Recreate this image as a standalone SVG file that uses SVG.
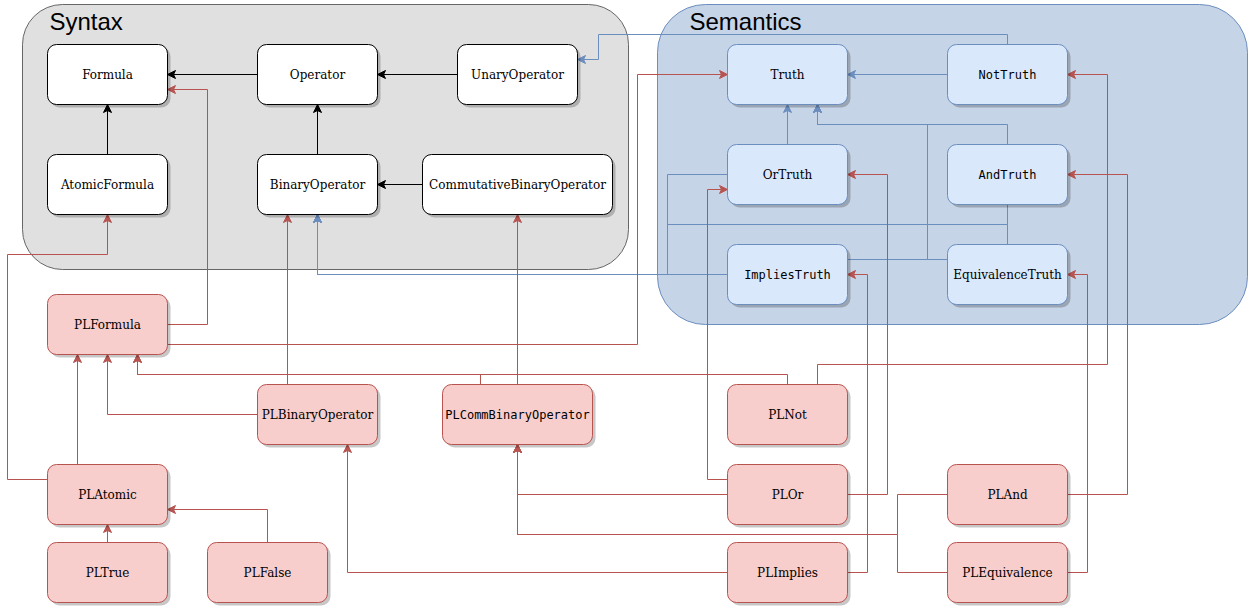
<svg xmlns="http://www.w3.org/2000/svg" width="1248" height="606" viewBox="0 0 1248 606">
<defs>
<style>
.shadow{fill:#000;opacity:0.22}
.syn{fill:#fff;stroke:#000;stroke-width:1}
.sem{fill:#dae8fc;stroke:#6c8ebf;stroke-width:1}
.pl{fill:#f8cecc;stroke:#b85450;stroke-width:1}
.t{font-family:"DejaVu Serif",serif;font-size:12px;fill:#000;text-anchor:middle}
.m{font-family:"DejaVu Sans Mono",monospace;font-size:12px;fill:#000;text-anchor:middle}
.title{font-family:"Liberation Sans",Arial,sans-serif;font-size:24px;fill:#000}
.k{fill:none;stroke:#000;stroke-width:1}
.b{fill:none;stroke:#6c8ebf;stroke-width:1}
.r{fill:none;stroke:#b85450;stroke-width:1}
</style>
<marker id="ak" viewBox="-9 -5 10 10" markerWidth="10" markerHeight="10" refX="0" refY="0" orient="auto" markerUnits="userSpaceOnUse"><path d="M0,0 L-8,-4 L-6,0 L-8,4 Z" fill="#000" stroke="#000" stroke-width="1"/></marker>
<marker id="abl" viewBox="-9 -5 10 10" markerWidth="10" markerHeight="10" refX="0" refY="0" orient="auto" markerUnits="userSpaceOnUse"><path d="M0,0 L-8,-4 L-6,0 L-8,4 Z" fill="#6c8ebf" stroke="#6c8ebf" stroke-width="1"/></marker>
<marker id="ar" viewBox="-9 -5 10 10" markerWidth="10" markerHeight="10" refX="0" refY="0" orient="auto" markerUnits="userSpaceOnUse"><path d="M0,0 L-8,-4 L-6,0 L-8,4 Z" fill="#b85450" stroke="#b85450" stroke-width="1"/></marker>
</defs>
<rect width="1248" height="606" fill="#fff"/>
<g transform="translate(0.5,0.5)">
<g id="syntax-container">
<rect x="22" y="4" width="606" height="265" rx="40" ry="40" fill="#e0e0e0" stroke="#666666"/>
<text class="title" x="49" y="29">Syntax</text>
</g>
<g id="semantics-container">
<rect x="657" y="4" width="590" height="320" rx="48" ry="48" fill="#c6d4e7" stroke="#6c8ebf"/>
<text class="title" x="689" y="29">Semantics</text>
</g>

<g id="connectors">
<g class="k" marker-end="url(#ak)">
<path d="M257,74 H167"/>
<path d="M457,74 H377"/>
<path d="M107,154 V104"/>
<path d="M317,154 V104"/>
<path d="M422,184 H377"/>
</g>
<g class="b" marker-end="url(#abl)">
<path d="M1007,44 V34 H598 V59 H577"/>
<path d="M947,74 H847"/>
<path d="M787,144 V104"/>
<path d="M1007,144 V124 H817 V104"/>
<path d="M847,259 H927 V124 H817 V104"/>
<path d="M947,259 H927 V124 H817 V104"/>
<path d="M727,174 H667 V274 H317 V214"/>
<path d="M727,274 H317 V214"/>
<path d="M1007,204 V224 H667 V274 H317 V214"/>
<path d="M1007,244 V224 H667 V274 H317 V214"/>
</g>
<g class="r" marker-end="url(#ar)">
<path d="M167,324 H207 V89 H167"/>
<path d="M167,344 H637 V74 H727"/>
<path d="M47,479 H7 V254 H107 V214"/>
<path d="M77,464 V354"/>
<path d="M257,414 H107 V354"/>
<path d="M287,384 V214"/>
<path d="M480,384 V374 H137 V354"/>
<path d="M787,384 V374 H137 V354"/>
<path d="M517,384 V214"/>
<path d="M817,384 V364 H1107 V74 H1067"/>
<path d="M727,479 H707 V189 H727"/>
<path d="M727,494 H517 V444"/>
<path d="M847,494 H887 V174 H847"/>
<path d="M727,572 H347 V444"/>
<path d="M847,572 H867 V274 H847"/>
<path d="M947,494 H897 V534 H517 V444"/>
<path d="M947,572 H897 V534 H517 V444"/>
<path d="M1067,494 H1127 V174 H1067"/>
<path d="M1067,572 H1087 V274 H1067"/>
<path d="M107,542 V524"/>
<path d="M267,542 V509 H167"/>
</g>
</g>

<g id="Formula"><rect class="shadow" x="50" y="47" width="120" height="60" rx="9"/><rect class="syn" x="47" y="44" width="120" height="60" rx="9"/><text class="t" x="107" y="78">Formula</text></g>
<g id="Operator"><rect class="shadow" x="260" y="47" width="120" height="60" rx="9"/><rect class="syn" x="257" y="44" width="120" height="60" rx="9"/><text class="t" x="317" y="78">Operator</text></g>
<g id="UnaryOperator"><rect class="shadow" x="460" y="47" width="120" height="60" rx="9"/><rect class="syn" x="457" y="44" width="120" height="60" rx="9"/><text class="t" x="517" y="78">UnaryOperator</text></g>
<g id="AtomicFormula"><rect class="shadow" x="50" y="157" width="120" height="60" rx="9"/><rect class="syn" x="47" y="154" width="120" height="60" rx="9"/><text class="t" x="107" y="188">AtomicFormula</text></g>
<g id="BinaryOperator"><rect class="shadow" x="260" y="157" width="120" height="60" rx="9"/><rect class="syn" x="257" y="154" width="120" height="60" rx="9"/><text class="t" x="317" y="188">BinaryOperator</text></g>
<g id="CommutativeBinaryOperator"><rect class="shadow" x="425" y="157" width="190" height="60" rx="9"/><rect class="syn" x="422" y="154" width="190" height="60" rx="9"/><text class="t" x="517" y="188">CommutativeBinaryOperator</text></g>

<g id="Truth"><rect class="shadow" x="730" y="47" width="120" height="60" rx="9"/><rect class="sem" x="727" y="44" width="120" height="60" rx="9"/><text class="t" x="787" y="78">Truth</text></g>
<g id="NotTruth"><rect class="shadow" x="950" y="47" width="120" height="60" rx="9"/><rect class="sem" x="947" y="44" width="120" height="60" rx="9"/><text class="m" x="1007" y="78">NotTruth</text></g>
<g id="OrTruth"><rect class="shadow" x="730" y="147" width="120" height="60" rx="9"/><rect class="sem" x="727" y="144" width="120" height="60" rx="9"/><text class="t" x="787" y="178">OrTruth</text></g>
<g id="AndTruth"><rect class="shadow" x="950" y="147" width="120" height="60" rx="9"/><rect class="sem" x="947" y="144" width="120" height="60" rx="9"/><text class="m" x="1007" y="178">AndTruth</text></g>
<g id="ImpliesTruth"><rect class="shadow" x="730" y="247" width="120" height="60" rx="9"/><rect class="sem" x="727" y="244" width="120" height="60" rx="9"/><text class="m" x="787" y="278">ImpliesTruth</text></g>
<g id="EquivalenceTruth"><rect class="shadow" x="950" y="247" width="120" height="60" rx="9"/><rect class="sem" x="947" y="244" width="120" height="60" rx="9"/><text class="t" x="1007" y="278">EquivalenceTruth</text></g>

<g id="PLFormula"><rect class="shadow" x="50" y="297" width="120" height="60" rx="9"/><rect class="pl" x="47" y="294" width="120" height="60" rx="9"/><text class="t" x="107" y="328">PLFormula</text></g>
<g id="PLBinaryOperator"><rect class="shadow" x="260" y="387" width="120" height="60" rx="9"/><rect class="pl" x="257" y="384" width="120" height="60" rx="9"/><text class="t" x="317" y="418">PLBinaryOperator</text></g>
<g id="PLCommBinaryOperator"><rect class="shadow" x="445" y="387" width="150" height="60" rx="9"/><rect class="pl" x="442" y="384" width="150" height="60" rx="9"/><text class="m" x="517" y="418">PLCommBinaryOperator</text></g>
<g id="PLNot"><rect class="shadow" x="730" y="387" width="120" height="60" rx="9"/><rect class="pl" x="727" y="384" width="120" height="60" rx="9"/><text class="t" x="787" y="418">PLNot</text></g>
<g id="PLAtomic"><rect class="shadow" x="50" y="467" width="120" height="60" rx="9"/><rect class="pl" x="47" y="464" width="120" height="60" rx="9"/><text class="t" x="107" y="498">PLAtomic</text></g>
<g id="PLOr"><rect class="shadow" x="730" y="467" width="120" height="60" rx="9"/><rect class="pl" x="727" y="464" width="120" height="60" rx="9"/><text class="t" x="787" y="498">PLOr</text></g>
<g id="PLAnd"><rect class="shadow" x="950" y="467" width="120" height="60" rx="9"/><rect class="pl" x="947" y="464" width="120" height="60" rx="9"/><text class="t" x="1007" y="498">PLAnd</text></g>
<g id="PLTrue"><rect class="shadow" x="50" y="545" width="120" height="60" rx="9"/><rect class="pl" x="47" y="542" width="120" height="60" rx="9"/><text class="t" x="107" y="576">PLTrue</text></g>
<g id="PLFalse"><rect class="shadow" x="210" y="545" width="120" height="60" rx="9"/><rect class="pl" x="207" y="542" width="120" height="60" rx="9"/><text class="t" x="267" y="576">PLFalse</text></g>
<g id="PLImplies"><rect class="shadow" x="730" y="545" width="120" height="60" rx="9"/><rect class="pl" x="727" y="542" width="120" height="60" rx="9"/><text class="t" x="787" y="576">PLImplies</text></g>
<g id="PLEquivalence"><rect class="shadow" x="950" y="545" width="120" height="60" rx="9"/><rect class="pl" x="947" y="542" width="120" height="60" rx="9"/><text class="t" x="1007" y="576">PLEquivalence</text></g>
</g>
</svg>
